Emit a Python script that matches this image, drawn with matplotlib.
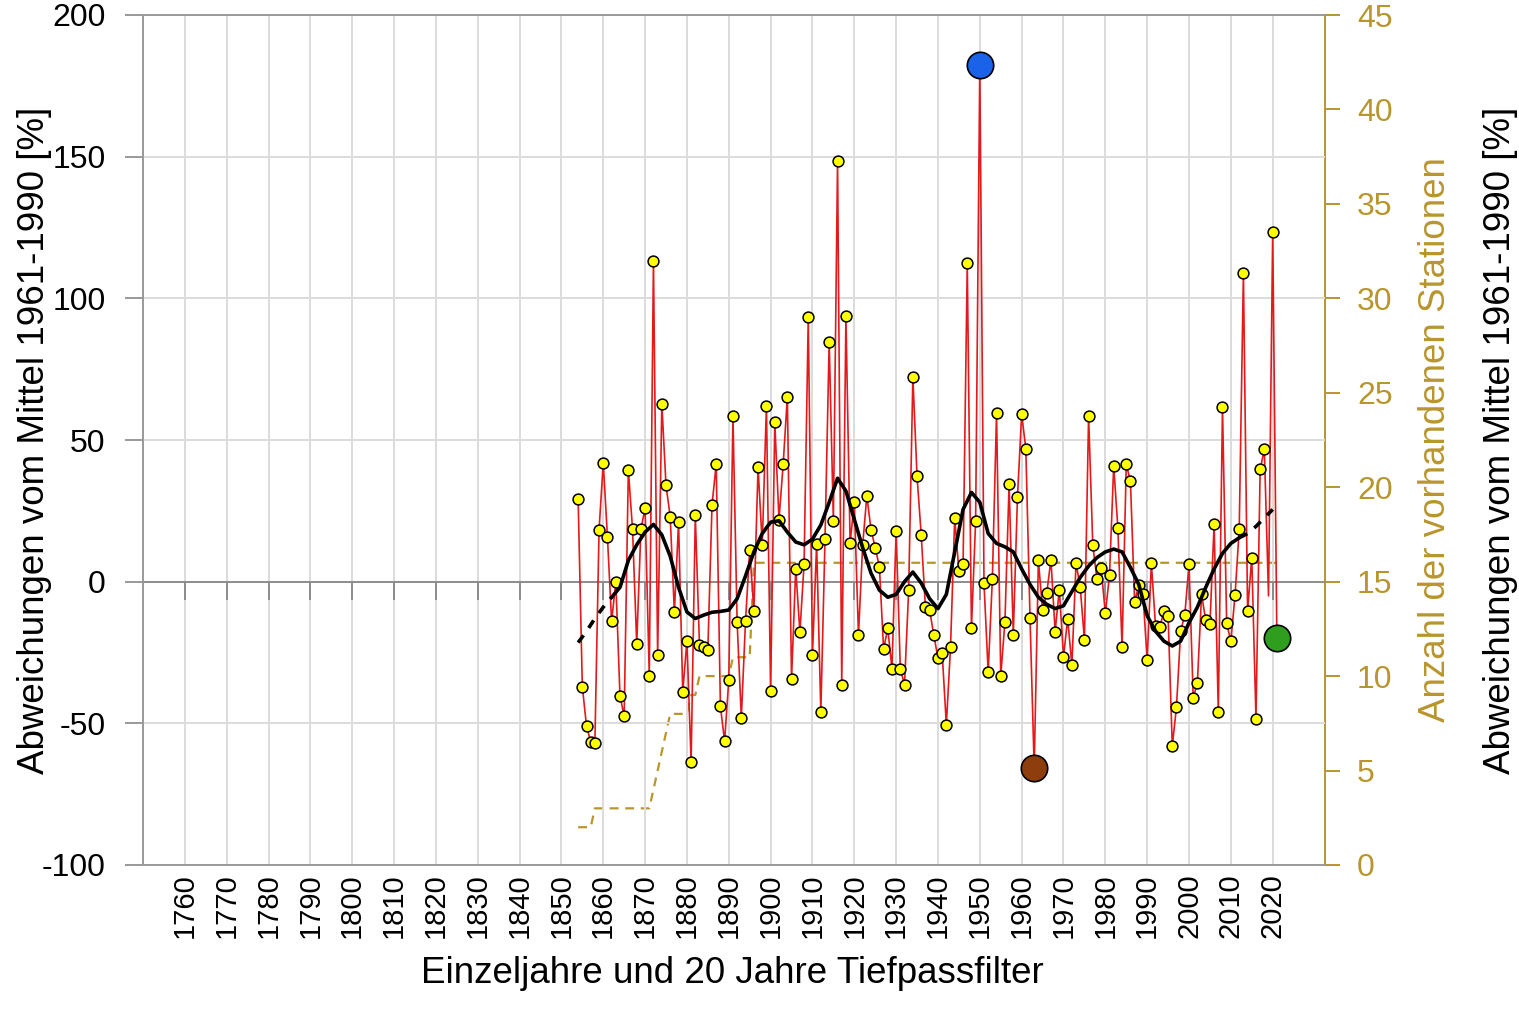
import matplotlib.pyplot as plt
import numpy as np

plt.rcParams["font.family"] = ["Liberation Sans", "DejaVu Sans"]
plt.rcParams["axes.unicode_minus"] = False

# yearly deviations from 1961-1990 mean [%]
YEARS = np.arange(1854, 2022)
ANOMALY = [
    29, -37, -51, -56.5, -57, 18.3, 42, 15.8, -14, 0,                  # 1854-1863
    -40.3, -47.5, 39.4, 18.5, -22, 18.5, 26, -33.2, 113, -26,          # 1864-1873
    62.8, 34, 23, -10.7, 21, -39, -20.8, -63.7, 23.5, -22.5,           # 1874-1883
    -23, -24, 27.2, 41.5, -44, -56.3, -34.7, 58.3, -14.4, -48,         # 1884-1893
    -14, 11.2, -10.3, 40.4, 13, 62, -38.7, 56.4, 21.8, 41.4,           # 1894-1903
    65.3, -34.4, 4.6, -17.8, 6.3, 93.3, -26, 13.3, -46, 14.9,          # 1904-1913
    84.7, 21.5, 148.3, -36.3, 93.6, 13.5, 28.2, -18.9, 12.9, 30.3,     # 1914-1923
    18.3, 12, 5.3, -23.8, -16.5, -30.7, 17.9, -30.7, -36.4, -2.9,      # 1924-1933
    72.1, 37.2, 16.3, -9, -10, -18.8, -27, -25, -50.5, -23.1,          # 1934-1943
    22.4, 3.9, 6.2, 112.5, -16.5, 21.4, 182.4, -0.6, -31.9, 1,         # 1944-1953
    59.4, -33.2, -14.3, 34.3, -18.7, 29.9, 59.1, 46.9, -12.8, -65.8,   # 1954-1963
    7.5, -10, -4, 7.8, -17.6, -2.8, -26.5, -13.1, -29.5, 6.6,          # 1964-1973
    -2, -20.5, 58.5, 12.9, 0.9, 4.7, -11.2, 2.3, 40.9, 18.8,           # 1974-1983
    -23.2, 41.4, 35.5, -7.1, -1.2, -4.5, -27.8, 6.5, -15.8, -16,       # 1984-1993
    -10.5, -12, -58, -44.3, -17.5, -11.6, 6.1, -41, -35.7, -4.5,       # 1994-2003
    -13.7, -15, 20.2, -46, 61.5, -14.7, -21, -4.8, 18.5, 109,          # 2004-2013
    -10.3, 8.5, -48.3, 39.6, 46.7, -5, 123.5, -20,                     # 2014-2021
]
NO_MARKER_YEARS = [2019]

# number of available stations (right axis)
STATIONS = ([2] * 4 + [3] * 14 + [4, 5, 6, 7] + [8] * 4 + [8, 9, 9]
            + [10] * 8 + [11] * 5 + [16] * 126)

# 20-year low-pass filter, read every 2 years
FILTER_YEARS = list(range(1854, 2021, 2))
FILTER_VALUES = [
    -21.5, -17.5, -13, -9, -5.5, -2, 7.5, 13, 17.5, 20.2,
    16.5, 9, -2, -10.7, -13, -11.8, -10.8, -10.5, -10, -6,
    2, 10.5, 17, 21, 21.5, 17.5, 14, 13, 15, 20,
    28, 36.5, 32, 22, 12, 3, -3, -5.5, -4.5, 0,
    3.4, -0.5, -6, -9.5, -4.5, 10.5, 25.5, 31.5, 28, 17,
    13.5, 12.3, 10.5, 4.5, -1, -5.5, -8, -9.5, -8.5, -3.5,
    1.5, 5.5, 8.5, 10.5, 11.5, 10.5, 5, -1, -12, -17.5,
    -21, -22.7, -21, -14.5, -9, -2, 4.5, 10, 13.5, 15.5,
    17, 19.5, 22.5, 25.5,
]
FILTER_SOLID_FROM = 1862
FILTER_SOLID_TO = 2012

DECADES = list(range(1760, 2021, 10))
LEFT_TICKS = [-100, -50, 0, 50, 100, 150, 200]
RIGHT_TICKS = list(range(0, 46, 5))

GRID = "#dcdcdc"
AXIS_GREY = "#999999"
GOLD = "#b8962e"
RED = "#e3191c"


def main():
    years = YEARS
    anomaly = np.array(ANOMALY, dtype=float)
    fyears = np.array(FILTER_YEARS)
    fvals = np.array(FILTER_VALUES, dtype=float)

    fig = plt.figure(figsize=(15.19, 10.15), dpi=100)
    ax = fig.add_axes([143 / 1519, 1 - 865 / 1015, 1182 / 1519, 850 / 1015])
    ax2 = ax.twinx()
    # keep the station line behind the precipitation data
    ax.set_zorder(ax2.get_zorder() + 1)
    ax.patch.set_visible(False)

    ax.set_xlim(1750, 2032.5)
    ax.set_ylim(-100, 200)

    # grid
    for d in DECADES:
        ax.axvline(d, color=GRID, lw=1.4, zorder=0)
    for v in (-50, 50, 100, 150):
        ax.axhline(v, color=GRID, lw=1.4, zorder=0)
    ax.axhline(0, color="#8c8c8c", lw=1.4, zorder=1)
    ax.vlines(DECADES, -6.5, 0, color="#8c8c8c", lw=1.4, zorder=1)

    # stations on right axis
    ax2.set_ylim(0, 45)
    ax2.plot(years, STATIONS, color=GOLD, lw=1.6, ls=(0, (4, 3)))

    # yearly values
    ax.plot(years, anomaly, color=RED, lw=1.2, zorder=3)
    mask = ~np.isin(years, NO_MARKER_YEARS) & (years != years[-1])
    ax.plot(years[mask], anomaly[mask], ls="none", marker="o", ms=7.8,
            mfc="#ffff00", mec="black", mew=1.1, zorder=4)

    # low-pass filter
    solid = (fyears >= FILTER_SOLID_FROM) & (fyears <= FILTER_SOLID_TO)
    left = fyears <= FILTER_SOLID_FROM
    right = fyears >= FILTER_SOLID_TO
    ax.plot(fyears[solid], fvals[solid], color="black", lw=2.6, zorder=5,
            solid_capstyle="round", solid_joinstyle="round")
    ax.plot(fyears[left], fvals[left], color="black", lw=2.6, zorder=5,
            ls=(0, (2.5, 2.5)))
    ax.plot(fyears[right], fvals[right], color="black", lw=2.6, zorder=5,
            ls=(0, (2.5, 2.5)))

    # highlighted max, min, last
    i_max = int(np.argmax(anomaly))
    i_min = int(np.argmin(anomaly))
    for i, col in ((i_max, "#1a62e8"), (i_min, "#8e3e0c"), (len(years) - 1, "#2f9e1f")):
        ax.plot(years[i], anomaly[i], ls="none", marker="o", ms=19,
                mfc=col, mec="black", mew=1.2, zorder=6)

    # axes styling
    for side in ("left", "top", "bottom"):
        ax.spines[side].set_color(AXIS_GREY)
        ax.spines[side].set_linewidth(1.4)
    ax.spines["right"].set_visible(False)
    for side in ("left", "top", "bottom"):
        ax2.spines[side].set_visible(False)
    ax2.spines["right"].set_color(GOLD)
    ax2.spines["right"].set_linewidth(1.4)

    ax.set_yticks(LEFT_TICKS)
    ax.tick_params(axis="y", length=13, width=1.4, color=AXIS_GREY,
                   labelsize=23, pad=14)
    ax.set_xticks(DECADES)
    ax.set_xticklabels([str(d) for d in DECADES], rotation=90)
    ax.tick_params(axis="x", length=0, labelsize=21, pad=6)

    ax2.set_yticks(RIGHT_TICKS)
    ax2.tick_params(axis="y", length=11, width=1.4, color=GOLD,
                    labelcolor=GOLD, labelsize=23, pad=12)

    ax.set_xlabel("Einzeljahre und 20 Jahre Tiefpassfilter", fontsize=26.5)
    ax.xaxis.set_label_coords(0.499, -0.107)
    ax.set_ylabel("Abweichungen vom Mittel 1961-1990 [%]", fontsize=26.5)
    ax.yaxis.set_label_coords(-0.077, 0.5)
    ax2.set_ylabel("Anzahl der vorhandenen Stationen", fontsize=26.5, color=GOLD)
    ax2.yaxis.set_label_coords(1.0787, 0.5)

    # label of the neighbouring panel at the image border
    fig.text(1518 / 1519, 1 - 440 / 1015, "Abweichungen vom Mittel 1961-1990 [%]",
             rotation=90, ha="right", va="center", fontsize=26.5)

    fig.savefig("out.png", dpi=100)
    plt.close(fig)


if __name__ == "__main__":
    main()
